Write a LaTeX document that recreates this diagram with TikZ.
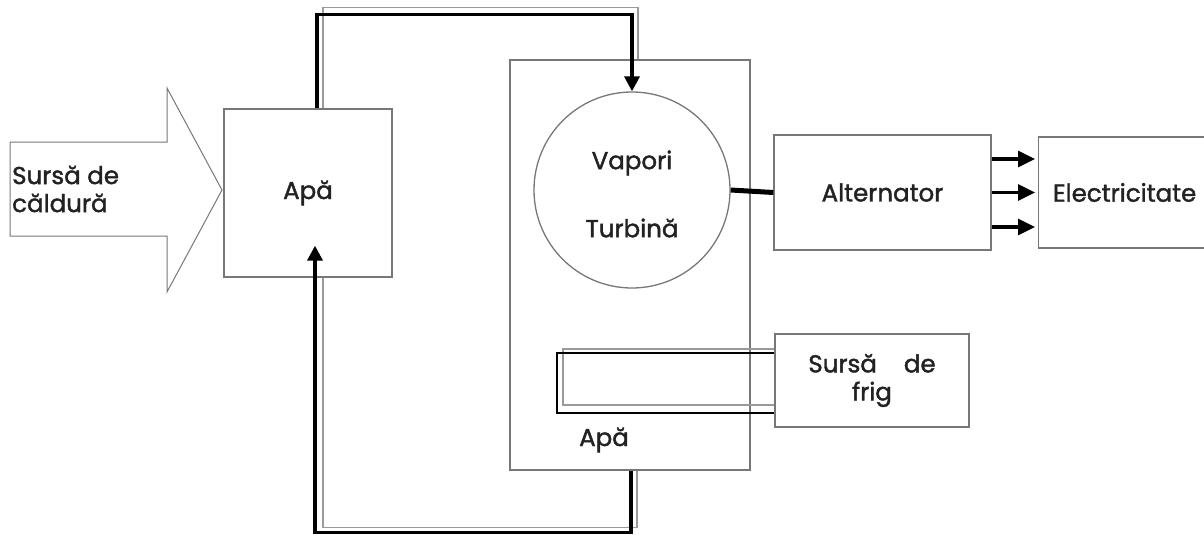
\documentclass[tikz,border=0pt]{standalone}
\usepackage{fontspec}
\setmainfont{Poppins}
\newfontfamily\lblfam[FakeBold=1.6]{Poppins}
\usetikzlibrary{arrows.meta}
\newcommand\lblfont{\lblfam\fontsize{24.5}{28}\selectfont}
\definecolor{edge}{HTML}{777777}
\definecolor{ink}{HTML}{222222}
\definecolor{pipegrey}{HTML}{9A9A9A}
\begin{document}
\begin{tikzpicture}[x=1pt,y=-1pt,
  box/.style={draw=edge,line width=1.3pt,inner sep=0pt,align=center,font=\lblfont,text=ink},
  txt/.style={inner sep=0pt,align=center,font=\lblfont,text=ink},
  blackpipe/.style={draw=black,line width=3.4pt},
  greypipe/.style={draw=pipegrey,line width=1.4pt},
  pipetip/.style={-{Triangle[length=15pt,width=15pt]}},
  elarrow/.style={draw=black,line width=3.2pt,-{Triangle[length=17pt,width=16pt]},shorten >=3pt},
  heatline/.style={draw=edge,line width=1pt}]
\useasboundingbox (0,0) rectangle (1204,535);
\clip (0,0) rectangle (1204,535);

% big heat arrow
\draw[heatline] (10,142) -- (167,142) -- (167,88) -- (222,190) -- (167,292) -- (167,236) -- (10,236) -- cycle;
\node[txt,anchor=west,align=left] (heat) at (12,189) {Sursă de\\căldură};

% boxes
\node[box,minimum width=168,minimum height=168] (apa) at (308,193) {Apă};
\node[box,minimum width=240,minimum height=410] (enc) at (630,265) {};
\node[circle,draw=edge,line width=1.3pt,inner sep=0pt,minimum size=196] (turb) at (632,190) {};
\node[txt] (vap) at (632,163) {Vapori};
\node[txt] (tur) at (632,228) {Turbină};
\node[box,minimum width=217,minimum height=115] (alt) at (882.5,192.5) {Alternator};
\node[box,minimum width=172,minimum height=111,anchor=west] (elec) at (1038,192.5) {Electricitate};

% condenser tube
\draw[greypipe] (775,349) -- (563,349) -- (563,405) -- (775,405);
\draw[draw=black,line width=2.6pt] (775,353) -- (557,353) -- (557,413) -- (775,413);
\node[box,fill=white,minimum width=194,minimum height=93] (frig) at (872,380.5) {Sursă\hspace{1.1em}de\\frig};
\node[txt] (apa2) at (604,440) {Apă};

% shaft
\draw[draw=black,line width=5pt] (turb.east) -- (alt.west);

% electricity arrows
\draw[elarrow] ([yshift=33.5pt]alt.east) -- ([yshift=33.5pt]alt.east -| elec.west);
\draw[elarrow] (alt.east) -- (elec.west);
\draw[elarrow] ([yshift=-34.5pt]alt.east) -- ([yshift=-34.5pt]alt.east -| elec.west);

% steam pipe (top)
\draw[greypipe] ([xshift=15pt]apa.north) -- ++(0,-101) -| ([xshift=8pt]enc.north);
\draw[blackpipe,pipetip] ([xshift=9pt]apa.north) -- ++(0,-94) -| (turb.north);

% return pipe (bottom)
\coordinate (ret) at ([xshift=7pt,yshift=32pt]apa.south);
\draw[greypipe] ([xshift=7pt]enc.south) -- ++(0,57) -| ([xshift=15pt]apa.south);
\draw[blackpipe,pipetip] ([xshift=1pt]enc.south) -- ++(0,62) -| (ret);
\end{tikzpicture}
\end{document}
